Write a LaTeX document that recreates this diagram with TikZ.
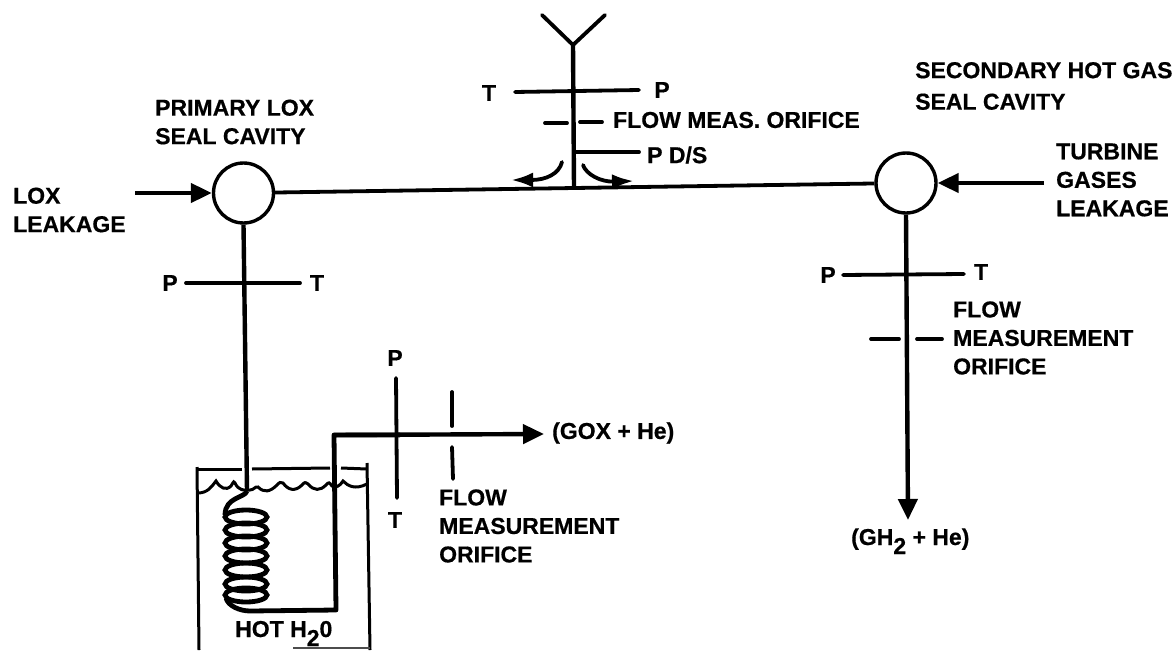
\documentclass[tikz,border=0pt]{standalone}
\usepackage{fontspec}
\setmainfont[BoldFeatures={FakeBold=0.6}]{Liberation Sans}
\usetikzlibrary{arrows.meta}
\newcommand{\subtwo}{\raisebox{-9pt}{2}}
\tikzset{
  x=1pt,y=-1pt,
  pipe/.style={line width=4.4pt,black},
  tank/.style={line width=3pt,black},
  inst/.style={line width=3.8pt,black,line cap=round},
  flow/.style={pipe,-{Triangle[length=21pt,width=19pt]}},
  small flow/.style={inst,-{Latex[length=22pt,width=15pt]}},
  cavity/.style={circle,draw=black,line width=3.4pt,minimum size=60pt,inner sep=0pt,fill=white},
  lbl/.style={font=\bfseries\fontsize{23}{28.5}\selectfont,inner sep=0pt,align=left,text=black},
  coilturn/.style={line width=4.8pt,black}
}
\begin{document}
\begin{tikzpicture}
\useasboundingbox (0,0) rectangle (1174,650);
% top stem
\coordinate (ya) at (573,45);
\coordinate (yl) at (542,15);
\coordinate (yr) at (605,15);
\coordinate (yb) at (574,188);
\draw[inst] (yl) -- (ya) -- (yr);
\draw[pipe] (ya) -- (yb);
% main line and cavities
\node[cavity] (lc) at (243.5,193) {};
\node[cavity] (rc) at (906,183) {};
\draw[pipe,line width=3.8pt] (lc) -- (rc);
\coordinate (t1a) at (515,92); \coordinate (t1b) at (639,90);
\draw[inst] (t1a) -- (t1b);
\node[lbl,anchor=center] (t1) at (489,93) {T};
\node[lbl,anchor=center] (p1) at (662,90) {P};
\coordinate (o1a) at (545,123); \coordinate (o1b) at (567,123);
\coordinate (o1c) at (580,122); \coordinate (o1d) at (602,122);
\draw[inst] (o1a) -- (o1b);
\draw[inst] (o1c) -- (o1d);
\node[lbl,anchor=west] (fmo) at (613,120) {FLOW MEAS. ORIFICE};
\coordinate (pds) at (639,152);
\draw[inst] (yb |- pds) -- (pds);
\node[lbl,anchor=west] (pdsl) at (647,155) {P D/S};
% curved arrows at tee
\coordinate (cl0) at (562,162); \coordinate (cl1) at (511,180);
\coordinate (cr0) at (583,165); \coordinate (cr1) at (634,181);
\draw[small flow] (cl0) .. controls (559,174) and (546,180) .. (cl1);
\draw[small flow] (cr0) .. controls (586,174) and (600,182) .. (cr1);
% left inlet
\node[lbl,anchor=west] (lox) at (13,210) {LOX\\LEAKAGE};
\coordinate (lin) at (135,193);
\draw[flow] (lin) -- (lc.west);
\node[lbl,anchor=west] (plox) at (155,122) {PRIMARY LOX\\SEAL CAVITY};
% right inlet
\coordinate (rin) at (1044,183);
\draw[flow] (rin) -- (rc.east);
\node[lbl,anchor=west] (sec) at (915,86) {SECONDARY HOT GAS\\[3pt]SEAL CAVITY};
\node[lbl,anchor=west] (turb) at (1056,180) {TURBINE\\GASES\\LEAKAGE};
% right outlet
\coordinate (rout) at (908,520);
\draw[flow] (rc.south) -- (rout);
\coordinate (t2a) at (843,275); \coordinate (t2b) at (964,274);
\draw[inst] (t2a) -- (t2b);
\node[lbl,anchor=center] (p2) at (828,275) {P};
\node[lbl,anchor=center] (t2) at (981,272) {T};
\coordinate (o2a) at (871,339); \coordinate (o2b) at (899,339);
\coordinate (o2c) at (917,339); \coordinate (o2d) at (942,339);
\draw[inst] (o2a) -- (o2b);
\draw[inst] (o2c) -- (o2d);
\node[lbl,anchor=west] (fmo2) at (953,338) {FLOW\\MEASUREMENT\\ORIFICE};
\node[lbl,anchor=base west] (gh) at (851,545) {(GH\subtwo{} + He)};
% left outlet to coil
\coordinate (coiltop) at (247,491);
\draw[pipe] (lc.south) -- (coiltop);
\coordinate (t3a) at (186,283); \coordinate (t3b) at (300,283);
\draw[inst] (t3a) -- (t3b);
\node[lbl,anchor=center] (p3) at (170,283) {P};
\node[lbl,anchor=center] (t3) at (317,283) {T};
% tank
\draw[tank] (197,467) -- (199,650);
\draw[tank] (367,463) -- (370,650);
\draw[tank] (197,469) -- (242,469);
\draw[tank] (252,469) -- (330,468);
\draw[tank] (341,468) -- (367,469);
\draw[line width=1.5pt,black!70] (293,648) -- (370,648);
\draw[tank] (198,493)
  .. controls (208,493) and (212,486) .. (216,481)
  .. controls (220,488) and (226,491) .. (231,486)
  .. controls (234,481) .. (235,483)
  .. controls (238,490) and (244,491) .. (250,490)
  .. controls (254,490) and (255,486) .. (258,487)
  .. controls (264,493) and (270,492) .. (277,485)
  .. controls (280,482) .. (283,483)
  .. controls (288,490) and (295,492) .. (302,485)
  .. controls (305,482) .. (308,484)
  .. controls (314,491) and (320,491) .. (326,485)
  .. controls (329,482) .. (332,486)
  .. controls (336,488) and (340,486) .. (343,481)
  .. controls (348,486) and (355,490) .. (367,484);
% coil
\foreach \yy in {517,530,543,556,570,584,595}{
  \draw[coilturn] (246,\yy) ellipse (21pt and 7pt);
}
\draw[coilturn] (coiltop) ..controls (245,498) and (225,497) .. (225,515);
% return
\coordinate (r0) at (226,598);
\coordinate (r1) at (336,610);
\coordinate (r2) at (334,435);
\coordinate (rend) at (544,434);
\draw[pipe,line width=4.8pt,line join=round] (r0) .. controls (228,606) and (240,611) .. (250,611) -- (r1) -- (r2) -- (400,435);
\draw[flow] (r2) -- (rend);
\node[lbl,anchor=west] (gox) at (552,433) {(GOX + He)};
% P/T bar
\coordinate (t4a) at (396,378); \coordinate (t4b) at (397,498);
\draw[inst] (t4a) -- (t4b);
\node[lbl,anchor=center] (p4) at (395,358) {P};
\node[lbl,anchor=center] (t4) at (395,520) {T};
\coordinate (o3a) at (452,392); \coordinate (o3b) at (452,426);
\coordinate (o3c) at (452,447); \coordinate (o3d) at (453,479);
\draw[inst] (o3a) -- (o3b);
\draw[inst] (o3c) -- (o3d);
\node[lbl,anchor=west] (fmo3) at (439,526) {FLOW\\MEASUREMENT\\ORIFICE};
\node[lbl,anchor=base west] (hot) at (235,637) {HOT H\subtwo{}0};
\end{tikzpicture}
\end{document}
